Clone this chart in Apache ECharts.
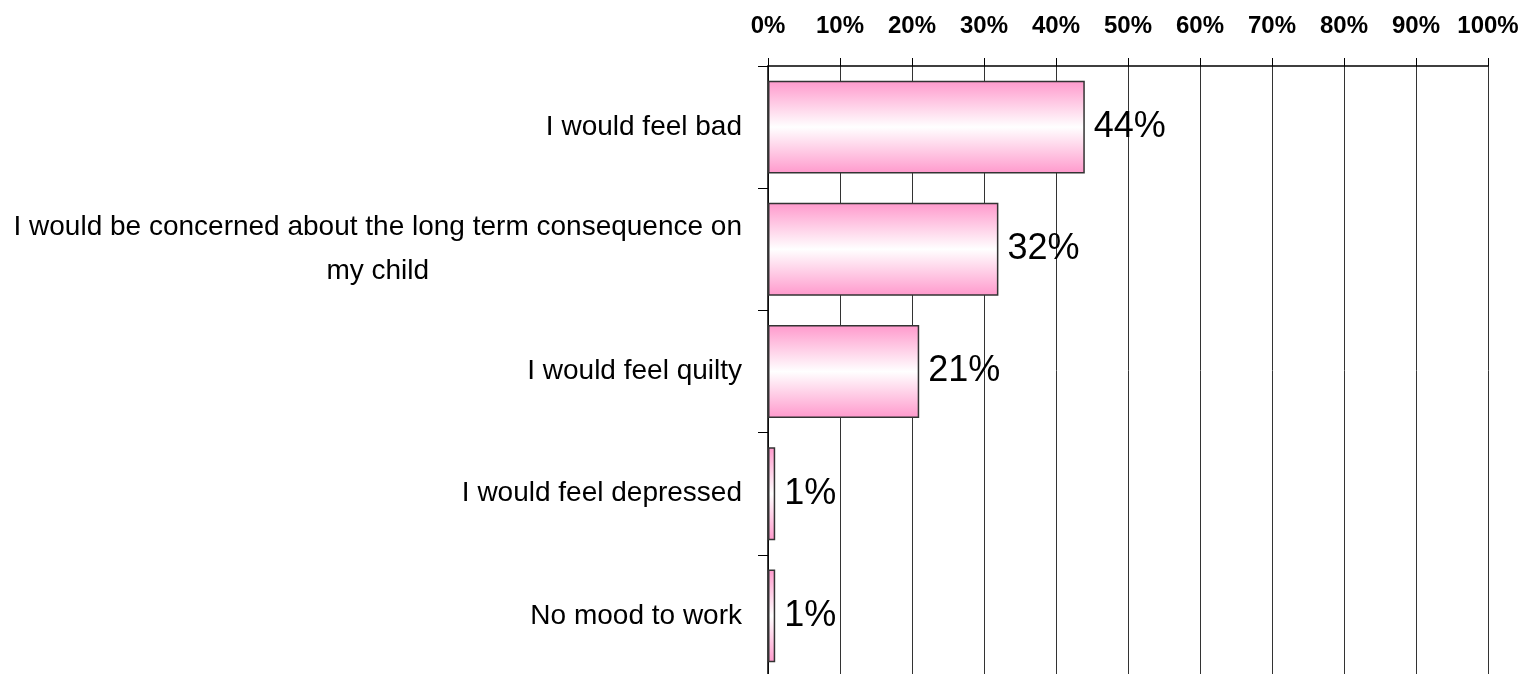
<!DOCTYPE html>
<html>
<head>
<meta charset="utf-8">
<script src="https://cdn.jsdelivr.net/npm/echarts@6/dist/echarts.min.js"></script>
<style>
  html, body { margin: 0; padding: 0; background: #fff; }
  #chart { width: 1526px; height: 674px; }
</style>
</head>
<body>
<div id="chart"></div>
<script>
// categories, top to bottom
const categories = [
  "I would feel bad",
  "I would be concerned about the long term consequence on\nmy child",
  "I would feel quilty",
  "I would feel depressed",
  "No mood to work",
];
// share of answers, %
const values = [44, 32, 21, 1, 1];
const tickLabels = ["0%", "10%", "20%", "30%", "40%", "50%", "60%", "70%", "80%", "90%", "100%"];

const chart = echarts.init(document.getElementById("chart"));

const pinkBar = new echarts.graphic.LinearGradient(0, 0, 0, 1, [
  { offset: 0, color: "#ff99cc" },
  { offset: 0.5, color: "#ffffff" },
  { offset: 1, color: "#ff99cc" },
]);

const catFont = "Liberation Sans, Arial, sans-serif";

const option = {
  animation: false,
  backgroundColor: "#ffffff",
  grid: { left: 768, right: 38, top: 66, height: 611, containLabel: false, outerBoundsMode: "none" },
  xAxis: {
    type: "value",
    position: "top",
    min: 0,
    max: 100,
    interval: 10,
    axisLine: { show: true, lineStyle: { color: "#000", width: 1.5 } },
    axisTick: { show: true, length: 8, lineStyle: { color: "#000" } },
    axisLabel: {
      margin: 28,
      color: "#000",
      fontFamily: "Liberation Sans, Arial, sans-serif",
      fontWeight: "bold",
      fontSize: 24,
      formatter: (v) => tickLabels[Math.round(v / 10)],
    },
    splitLine: { show: true, lineStyle: { color: "#333", width: 1 } },
  },
  yAxis: {
    type: "category",
    inverse: true,
    data: categories,
    axisLine: { show: true, lineStyle: { color: "#000", width: 1.5 } },
    axisTick: { show: true, length: 10, lineStyle: { color: "#000" } },
    axisLabel: {
      margin: 26,
      color: "#000",
      fontFamily: catFont,
      fontSize: 28,
      lineHeight: 44,
      formatter: (v) => v.split("\n").map((s) => "{c|" + s + "}").join("\n"),
      rich: {
        c: {
          align: "center",
          color: "#000",
          fontFamily: catFont,
          fontSize: 28,
          lineHeight: 44,
        },
      },
    },
  },
  series: [
    {
      type: "bar",
      data: values,
      barCategoryGap: "24%",
      itemStyle: { color: pinkBar, borderColor: "#333", borderWidth: 1.5 },
      label: {
        show: true,
        position: "right",
        distance: 9,
        color: "#000",
        fontFamily: "Liberation Sans, Arial, sans-serif",
        fontSize: 36,
        formatter: "{c}%",
      },
    },
  ],
};

chart.setOption(option);
</script>
</body>
</html>
